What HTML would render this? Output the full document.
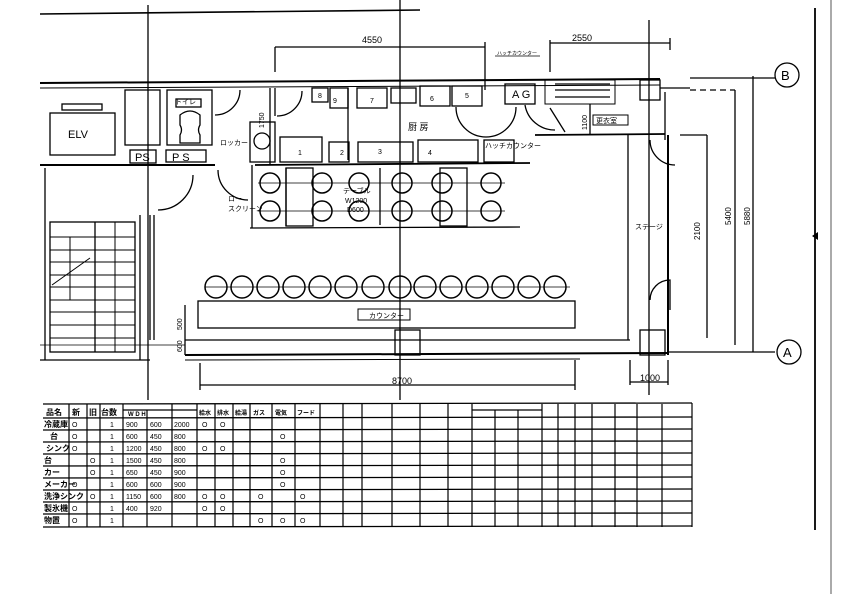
<!DOCTYPE html>
<html><head><meta charset="utf-8"><style>
html,body{margin:0;padding:0;background:#fff;}
svg{display:block}
text{font-family:"Liberation Sans","Noto Sans CJK JP",sans-serif;fill:#000}
</style></head><body>
<svg width="842" height="594" viewBox="0 0 842 594" xmlns="http://www.w3.org/2000/svg">
<g stroke="#000" fill="none" stroke-width="1.3">
<!-- long construction lines -->
<line x1="40" y1="14" x2="420" y2="10" stroke-width="1.6"/>
<line x1="148" y1="5" x2="148" y2="400"/>
<line x1="400" y1="0" x2="400" y2="400"/>
<line x1="649" y1="20" x2="649" y2="395"/>
<line x1="815" y1="8" x2="815" y2="530" stroke-width="1.8"/>
<line x1="831" y1="0" x2="831" y2="594" stroke="#aaa" stroke-width="2"/>
<!-- top dims -->
<line x1="275" y1="47" x2="485" y2="47"/><line x1="275" y1="47" x2="275" y2="72"/><line x1="485" y1="42" x2="485" y2="90"/>
<line x1="550" y1="43" x2="670" y2="43"/><line x1="550" y1="40" x2="550" y2="72"/><line x1="670" y1="38" x2="670" y2="50"/>
<line x1="495" y1="56" x2="540" y2="56" stroke-width="0.8"/>
<!-- top wall -->
<line x1="40" y1="83" x2="660" y2="79" stroke-width="2"/>
<line x1="40" y1="88" x2="660" y2="85" stroke-width="1"/>
<line x1="660" y1="88" x2="690" y2="88"/>
<line x1="690" y1="78" x2="775" y2="78"/>
<line x1="690" y1="90" x2="735" y2="90" stroke-dasharray="6 4"/>
<!-- left block -->
<rect x="50" y="113" width="65" height="42"/>
<rect x="62" y="104" width="40" height="6"/>
<rect x="125" y="90" width="35" height="55"/>
<rect x="167" y="90" width="45" height="55"/>
<rect x="176" y="99" width="25" height="8"/>
<path d="M180 115 q10 -8 20 0 v10 q-3 5 0 10 v8 h-20 v-8 q3 -5 0 -10z"/>
<rect x="130" y="150" width="26" height="13"/><rect x="166" y="150" width="40" height="12"/>
<line x1="40" y1="165" x2="215" y2="165" stroke-width="2"/>
<line x1="45" y1="168" x2="45" y2="360"/>
<path d="M215 115 a25 25 0 0 0 25 -25"/>
<path d="M158 210 a35 35 0 0 0 35 -35"/>
<path d="M218 170 a30 30 0 0 0 30 30"/>
<!-- stairs -->
<rect x="50" y="222" width="85" height="130"/>
<line x1="95" y1="222" x2="95" y2="352"/>
<g stroke-width="1">
<line x1="50" y1="237" x2="135" y2="237"/><line x1="50" y1="250" x2="135" y2="250"/><line x1="50" y1="262" x2="135" y2="262"/><line x1="50" y1="275" x2="135" y2="275"/><line x1="50" y1="287" x2="135" y2="287"/><line x1="50" y1="300" x2="135" y2="300"/><line x1="50" y1="312" x2="135" y2="312"/><line x1="50" y1="325" x2="135" y2="325"/><line x1="50" y1="338" x2="135" y2="338"/>
<line x1="115" y1="222" x2="115" y2="352"/><line x1="70" y1="237" x2="70" y2="300"/>
<line x1="52" y1="285" x2="90" y2="258"/>
</g>
<line x1="140" y1="215" x2="140" y2="360"/><line x1="154" y1="215" x2="154" y2="340"/>
<line x1="40" y1="360" x2="150" y2="360"/>
<!-- kitchen top fixtures -->
<rect x="312" y="88" width="16" height="14"/><rect x="330" y="88" width="18" height="20"/>
<rect x="357" y="88" width="30" height="20"/><rect x="391" y="88" width="25" height="15"/>
<rect x="420" y="86" width="30" height="20"/><rect x="452" y="86" width="30" height="20"/>
<rect x="505" y="84" width="30" height="20"/>
<rect x="545" y="80" width="70" height="24" stroke-width="1"/>
<line x1="555" y1="84" x2="610" y2="84"/><line x1="555" y1="90" x2="610" y2="90"/><line x1="555" y1="97" x2="610" y2="97"/>
<rect x="640" y="80" width="20" height="20"/>
<path d="M456 107 a30 30 0 0 0 60 0"/>
<path d="M525 105 a30 30 0 0 0 30 25"/>
<line x1="535" y1="135" x2="665" y2="134" stroke-width="1.8"/>
<line x1="550" y1="108" x2="565" y2="132"/><line x1="590" y1="104" x2="590" y2="134"/>
<rect x="593" y="115" width="35" height="10" stroke-width="1"/>
<line x1="348" y1="88" x2="348" y2="160"/>
<line x1="270" y1="88" x2="270" y2="165"/>
<path d="M275 88 v28 M277 116 a25 25 0 0 0 25 -25"/>
<rect x="250" y="122" width="25" height="40"/>
<rect x="280" y="137" width="42" height="25"/>
<rect x="329" y="142" width="20" height="20"/>
<rect x="358" y="142" width="55" height="20"/>
<rect x="418" y="140" width="60" height="22"/>
<rect x="484" y="140" width="30" height="22"/>
<line x1="255" y1="165" x2="530" y2="163" stroke-width="1.8"/>
<circle cx="262" cy="141" r="8"/>
<!-- booth tables -->
<line x1="252" y1="165" x2="252" y2="228"/><line x1="286" y1="168" x2="286" y2="226"/>
<rect x="286" y="168" width="27" height="58"/>
<rect x="440" y="168" width="27" height="58"/>
<line x1="250" y1="228" x2="520" y2="227"/>
<line x1="380" y1="168" x2="380" y2="225"/>
<!-- main room walls -->
<line x1="150" y1="215" x2="150" y2="340"/>
<line x1="628" y1="135" x2="628" y2="340"/>
<line x1="668" y1="135" x2="668" y2="355" stroke-width="2"/>
<line x1="665" y1="92" x2="665" y2="140"/>
<path d="M650 140 a25 25 0 0 0 25 25"/>
<path d="M650 300 a20 20 0 0 1 20 -20 v30"/>
<rect x="640" y="330" width="25" height="25"/>
<rect x="395" y="330" width="25" height="25"/>
<line x1="185" y1="340" x2="630" y2="340"/>
<line x1="185" y1="355" x2="668" y2="353" stroke-width="2"/>
<line x1="185" y1="360" x2="580" y2="359" stroke-width="1"/>
<line x1="40" y1="345" x2="185" y2="345" stroke-width="0.8"/>
<!-- counter -->
<rect x="198" y="301" width="377" height="27"/>
<rect x="358" y="309" width="52" height="11" stroke-width="1"/>
<!-- bottom dims -->
<line x1="200" y1="385" x2="575" y2="385"/><line x1="200" y1="363" x2="200" y2="390"/><line x1="575" y1="360" x2="575" y2="390"/>
<line x1="630" y1="382" x2="668" y2="382"/><line x1="630" y1="360" x2="630" y2="385"/><line x1="668" y1="360" x2="668" y2="385"/>
<line x1="185" y1="305" x2="185" y2="355"/>
<!-- right dims -->
<line x1="668" y1="352" x2="775" y2="352"/>
<line x1="680" y1="135" x2="707" y2="135"/><line x1="707" y1="135" x2="707" y2="338"/>
<line x1="735" y1="90" x2="735" y2="345"/><line x1="753" y1="76" x2="753" y2="352"/>
<circle cx="787" cy="75" r="12"/><circle cx="789" cy="352" r="12"/>
</g>
<!-- chairs -->
<g stroke="#000" fill="none" stroke-width="1.5">
<g id="r1"><circle cx="270" cy="183" r="10"/><circle cx="322" cy="183" r="10"/><circle cx="359" cy="183" r="10"/><circle cx="402" cy="183" r="10"/><circle cx="442" cy="183" r="10"/><circle cx="491" cy="183" r="10"/></g>
<circle cx="270" cy="211" r="10"/><circle cx="322" cy="211" r="10"/><circle cx="359" cy="211" r="10"/><circle cx="402" cy="211" r="10"/><circle cx="442" cy="211" r="10"/><circle cx="491" cy="211" r="10"/>
<g stroke-width="0.8"><line x1="258" y1="183" x2="505" y2="183"/><line x1="258" y1="211" x2="505" y2="211"/><line x1="205" y1="287" x2="570" y2="287"/></g>
<circle cx="216" cy="287" r="11"/><circle cx="242" cy="287" r="11"/><circle cx="268" cy="287" r="11"/><circle cx="294" cy="287" r="11"/><circle cx="320" cy="287" r="11"/><circle cx="346" cy="287" r="11"/><circle cx="373" cy="287" r="11"/><circle cx="400" cy="287" r="11"/><circle cx="425" cy="287" r="11"/><circle cx="451" cy="287" r="11"/><circle cx="477" cy="287" r="11"/><circle cx="503" cy="287" r="11"/><circle cx="529" cy="287" r="11"/><circle cx="555" cy="287" r="11"/>
</g>
<polygon points="812,236 818,232 818,240" fill="#000"/>
<!-- labels -->
<g font-size="9">
<text x="68" y="138" font-size="11">ELV</text>
<text x="135" y="161" font-size="11">PS</text><text x="172" y="161" font-size="11">P S</text>
<text x="362" y="43">4550</text><text x="572" y="41">2550</text>
<text x="392" y="384">8700</text><text x="640" y="381">1000</text>
<text x="781" y="80" font-size="13">B</text><text x="783" y="357" font-size="13">A</text>
<text x="512" y="98" font-size="11">A G</text>
<text x="333" y="103" font-size="7">9</text><text x="370" y="103" font-size="7">7</text><text x="430" y="101" font-size="7">6</text><text x="465" y="98" font-size="7">5</text><text x="318" y="98" font-size="7">8</text>
<text x="298" y="155" font-size="7">1</text><text x="340" y="155" font-size="7">2</text><text x="378" y="154" font-size="7">3</text><text x="428" y="155" font-size="7">4</text>
<text x="408" y="130" font-size="9">厨 房</text>
<text x="175" y="104" font-size="7">トイレ</text>
<text x="220" y="145" font-size="7">ロッカー</text>
<text x="228" y="201" font-size="7">ロー</text><text x="228" y="211" font-size="7">スクリーン</text>
<text x="343" y="193" font-size="7">テーブル</text><text x="345" y="203" font-size="7">W1200</text><text x="347" y="212" font-size="7">D600</text>
<text x="485" y="148" font-size="7">ハッチカウンター</text>
<text x="596" y="123" font-size="7">更衣室</text>
<text x="635" y="229" font-size="7">ステージ</text>
<text x="369" y="318" font-size="7">カウンター</text>
<text x="497" y="55" font-size="5">ハッチカウンター</text>
<text transform="translate(264,128) rotate(-90)" font-size="7">1750</text>
<text transform="translate(587,130) rotate(-90)" font-size="7">1100</text>
<text transform="translate(700,240) rotate(-90)" font-size="8">2100</text>
<text transform="translate(731,225) rotate(-90)" font-size="8">5400</text>
<text transform="translate(750,225) rotate(-90)" font-size="8">5880</text>
<text transform="translate(182,330) rotate(-90)" font-size="7">500</text>
<text transform="translate(182,352) rotate(-90)" font-size="7">600</text>
</g>
<!-- table -->
<g stroke="#000" stroke-width="1.3">
<line x1="43" y1="404" x2="692" y2="403"/>
<line x1="43" y1="418" x2="692" y2="417"/>
<line x1="43" y1="430" x2="692" y2="429"/>
<line x1="43" y1="442" x2="692" y2="441"/>
<line x1="43" y1="454" x2="692" y2="453"/>
<line x1="43" y1="466" x2="692" y2="465"/>
<line x1="43" y1="478" x2="692" y2="477"/>
<line x1="43" y1="490" x2="692" y2="489"/>
<line x1="43" y1="502" x2="692" y2="501"/>
<line x1="43" y1="514" x2="692" y2="513"/>
<line x1="43" y1="527" x2="692" y2="526"/>
<g stroke-width="1.2">
<line x1="69" y1="404" x2="69" y2="527"/><line x1="87" y1="404" x2="87" y2="527"/><line x1="100" y1="404" x2="100" y2="527"/>
<line x1="123" y1="404" x2="123" y2="527"/><line x1="147" y1="410" x2="147" y2="527"/><line x1="172" y1="404" x2="172" y2="527"/>
<line x1="197" y1="404" x2="197" y2="527"/><line x1="215" y1="404" x2="215" y2="527"/><line x1="233" y1="404" x2="233" y2="527"/>
<line x1="250" y1="404" x2="250" y2="527"/><line x1="272" y1="404" x2="272" y2="527"/><line x1="295" y1="404" x2="295" y2="527"/>
<line x1="320" y1="404" x2="320" y2="527"/><line x1="343" y1="404" x2="343" y2="527"/><line x1="362" y1="404" x2="362" y2="527"/>
<line x1="392" y1="404" x2="392" y2="527"/><line x1="420" y1="404" x2="420" y2="527"/><line x1="448" y1="404" x2="448" y2="527"/>
<line x1="472" y1="404" x2="472" y2="527"/><line x1="495" y1="410" x2="495" y2="527"/><line x1="518" y1="410" x2="518" y2="527"/>
<line x1="542" y1="404" x2="542" y2="527"/><line x1="558" y1="404" x2="558" y2="527"/><line x1="575" y1="404" x2="575" y2="527"/>
<line x1="592" y1="404" x2="592" y2="527"/><line x1="615" y1="404" x2="615" y2="527"/><line x1="637" y1="404" x2="637" y2="527"/>
<line x1="662" y1="404" x2="662" y2="527"/><line x1="692" y1="403" x2="692" y2="527"/>
<line x1="472" y1="410" x2="542" y2="410"/><line x1="123" y1="410" x2="197" y2="410"/>
</g>
</g>
<g font-size="8" font-weight="bold">
<text x="46" y="415">品名</text><text x="72" y="415">新</text><text x="89" y="415">旧</text><text x="101" y="415">台数</text><text x="128" y="416" font-size="6">W D H</text>
<text x="199" y="415" font-size="6">給水</text><text x="217" y="415" font-size="6">排水</text><text x="235" y="415" font-size="6">給湯</text><text x="253" y="415" font-size="6">ガス</text><text x="275" y="415" font-size="6">電気</text><text x="297" y="415" font-size="6">フード</text>
<text x="44" y="427">冷蔵庫</text><text x="50" y="439">台</text><text x="46" y="451">シンク</text><text x="44" y="463">台</text><text x="44" y="475">カー</text><text x="44" y="487">メーカー</text><text x="44" y="499">洗浄シンク</text><text x="44" y="511">製氷機</text><text x="44" y="523">物置</text>
</g>
<g font-size="7">
<text x="72" y="427">O</text><text x="72" y="439">O</text><text x="72" y="451">O</text><text x="90" y="463">O</text><text x="90" y="475">O</text><text x="72" y="487">O</text><text x="90" y="499">O</text><text x="72" y="511">O</text><text x="72" y="523">O</text>
<text x="110" y="427">1</text><text x="110" y="439">1</text><text x="110" y="451">1</text><text x="110" y="463">1</text><text x="110" y="475">1</text><text x="110" y="487">1</text><text x="110" y="499">1</text><text x="110" y="511">1</text><text x="110" y="523">1</text>
<text x="126" y="427">900</text><text x="150" y="427">600</text><text x="174" y="427">2000</text>
<text x="126" y="439">600</text><text x="150" y="439">450</text><text x="174" y="439">800</text>
<text x="126" y="451">1200</text><text x="150" y="451">450</text><text x="174" y="451">800</text>
<text x="126" y="463">1500</text><text x="150" y="463">450</text><text x="174" y="463">800</text>
<text x="126" y="475">650</text><text x="150" y="475">450</text><text x="174" y="475">900</text>
<text x="126" y="487">600</text><text x="150" y="487">600</text><text x="174" y="487">900</text>
<text x="126" y="499">1150</text><text x="150" y="499">600</text><text x="174" y="499">800</text>
<text x="126" y="511">400</text><text x="150" y="511">920</text>
<text x="202" y="427">O</text><text x="220" y="427">O</text><text x="202" y="451">O</text><text x="220" y="451">O</text>
<text x="280" y="439">O</text><text x="280" y="463">O</text><text x="280" y="475">O</text><text x="280" y="487">O</text>
<text x="202" y="499">O</text><text x="220" y="499">O</text><text x="258" y="499">O</text><text x="300" y="499">O</text>
<text x="202" y="511">O</text><text x="220" y="511">O</text>
<text x="258" y="523">O</text><text x="280" y="523">O</text><text x="300" y="523">O</text>
</g>
</svg>
</body></html>
